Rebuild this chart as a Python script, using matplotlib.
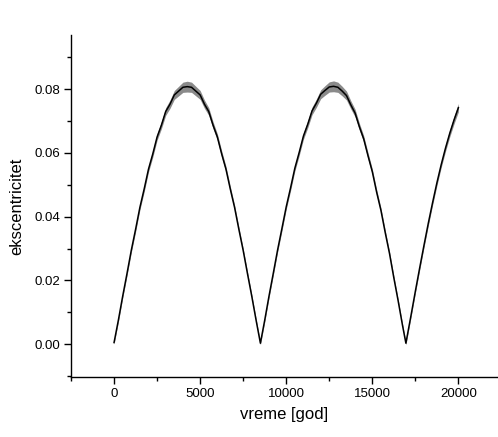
import matplotlib
matplotlib.use('Agg')
import matplotlib.pyplot as plt
from matplotlib.ticker import MultipleLocator, FormatStrFormatter

plt.rcParams['font.family'] = ['Liberation Sans', 'DejaVu Sans']

# time [god] and eccentricity
vreme = [0, 250, 500, 750, 1000, 1250, 1500, 1750, 2000, 2250, 2500, 2750,
         3000, 3250, 3500, 3750, 4000, 4250, 4500, 4750, 5000, 5250, 5500,
         5750, 6000, 6250, 6500, 6750, 7000, 7250, 7500, 7750, 8000, 8250,
         8500, 8750, 9000, 9250, 9500, 9750, 10000, 10250, 10500, 10750,
         11000, 11250, 11500, 11750, 12000, 12250, 12500, 12750, 13000,
         13250, 13500, 13750, 14000, 14250, 14500, 14750, 15000, 15250,
         15500, 15750, 16000, 16250, 16500, 16750, 16950, 17250, 17500,
         17750, 18000, 18250, 18500, 18750, 19000, 19250, 19500, 19750, 20000]
ekscentricitet = [0.0005, 0.0075, 0.0150, 0.0221, 0.0294, 0.0360, 0.0429, 0.0487,
                  0.0549, 0.0597, 0.0650, 0.0687, 0.0730, 0.0753, 0.0782, 0.0794,
                  0.0806, 0.0808, 0.0806, 0.0794, 0.0782, 0.0753, 0.0730, 0.0687,
                  0.0650, 0.0597, 0.0549, 0.0487, 0.0429, 0.0360, 0.0294, 0.0221,
                  0.0150, 0.0075, 0.0003,
                  0.0075, 0.0151, 0.0223, 0.0296, 0.0363, 0.0431, 0.0490, 0.0552,
                  0.0601, 0.0653, 0.0690, 0.0732, 0.0756, 0.0784, 0.0796, 0.0807,
                  0.0809, 0.0806, 0.0794, 0.0780, 0.0751, 0.0725, 0.0682, 0.0644,
                  0.0591, 0.0541, 0.0477, 0.0420, 0.0350, 0.0284, 0.0208, 0.0136,
                  0.0060, 0.0003,
                  0.0091, 0.0166, 0.0239, 0.0310, 0.0379, 0.0444, 0.0506, 0.0563,
                  0.0615, 0.0662, 0.0704, 0.0742]
# half width of the noisy band around the curve
sirina = [0.0005, 0.0006, 0.0006, 0.0007, 0.0007, 0.0008, 0.0008, 0.0009,
          0.0009, 0.0010, 0.0010, 0.0011, 0.0012, 0.0013, 0.0014, 0.0015,
          0.0016, 0.0017, 0.0016, 0.0015, 0.0014, 0.0013, 0.0012, 0.0011,
          0.0010, 0.0010, 0.0009, 0.0009, 0.0008, 0.0008, 0.0007, 0.0007,
          0.0006, 0.0006, 0.0005,
          0.0006, 0.0006, 0.0007, 0.0007, 0.0008, 0.0008, 0.0009, 0.0009,
          0.0010, 0.0010, 0.0011, 0.0012, 0.0013, 0.0014, 0.0015, 0.0016,
          0.0017, 0.0016, 0.0015, 0.0014, 0.0013, 0.0012, 0.0011, 0.0010,
          0.0010, 0.0009, 0.0009, 0.0008, 0.0008, 0.0007, 0.0007, 0.0006,
          0.0006, 0.0005,
          0.0006, 0.0006, 0.0007, 0.0007, 0.0008, 0.0008, 0.0009, 0.0009,
          0.0010, 0.0011, 0.0012, 0.0013]

gore = [e + s for e, s in zip(ekscentricitet, sirina)]
dole = [e - s for e, s in zip(ekscentricitet, sirina)]

fig = plt.figure(figsize=(4.98, 4.37), dpi=100)
ax = fig.add_axes([71/498, 1 - 377/437, 1 - 71/498, (377 - 35)/437])

ax.fill_between(vreme, dole, gore, color='#8a8a8a', lw=0)
ax.plot(vreme, ekscentricitet, color='black', lw=1.1)

ax.set_xlim(-2500, 22300)
ax.set_ylim(-0.0103, 0.097)
ax.xaxis.set_major_locator(MultipleLocator(5000))
ax.xaxis.set_minor_locator(MultipleLocator(2500))
ax.yaxis.set_major_locator(MultipleLocator(0.02))
ax.yaxis.set_minor_locator(MultipleLocator(0.01))
ax.yaxis.set_major_formatter(FormatStrFormatter('%.2f'))

ax.spines['top'].set_visible(False)
ax.spines['right'].set_visible(False)
for s in ('left', 'bottom'):
    ax.spines[s].set_linewidth(1.0)

ax.tick_params(which='major', direction='out', length=5, width=1, labelsize=9.5, pad=3)
ax.tick_params(which='minor', direction='out', length=3, width=1)

ax.set_xlabel('vreme [god]', fontsize=12, labelpad=5)
ax.set_ylabel('ekscentricitet', fontsize=12, labelpad=7)

fig.savefig('out.png', dpi=100)
